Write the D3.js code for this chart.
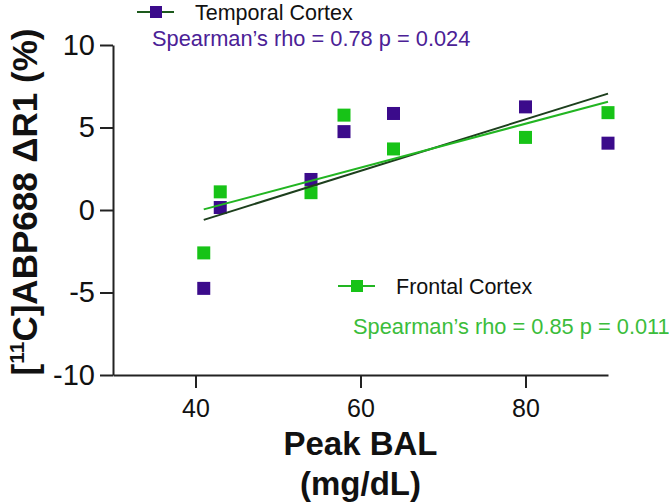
<!DOCTYPE html>
<html>
<head>
<meta charset="utf-8">
<script src="https://cdn.jsdelivr.net/npm/d3@7"></script>
<style>
  body { margin: 0; background: #fff; }
  svg { font-family: "Liberation Sans", Arial, sans-serif; display: block; }
</style>
</head>
<body>
<div id="chart"></div>
<script>
// Peak BAL vs [11C]ABP688 change, two regions

const bal = [41, 43, 54, 58, 64, 80, 90];
const temporal = [-4.75, 0.15, 1.85, 4.75, 5.85, 6.25, 4.05];
const frontal = [-2.6, 1.1, 1.05, 5.75, 3.7, 4.4, 5.9];
const xTicks = [40, 60, 80];
const yTicks = [-10, -5, 0, 5, 10];
const seriesNames = ["Temporal Cortex", "Frontal Cortex"];
const statLabels = ["Spearman\u2019s rho = 0.78 p = 0.024", "Spearman\u2019s rho = 0.85 p = 0.011"];

const width = 669,
    height = 504,
    margin = ({ top: 45, right: 61, bottom: 129, left: 113 });

const svg = d3.select("#chart")
    .append("svg")
    .attr("width", width)
    .attr("height", height);

const x = d3.scaleLinear()
    .domain([30, 90])
    .range([margin.left, width - margin.right]);

const y = d3.scaleLinear()
    .domain([-10, 10])
    .range([height - margin.bottom, margin.top]);

// series styling + where legend/stat text sit
const series = [
  { name: seriesNames[0], values: temporal, stat: statLabels[0],
    point: "#3b0b8b", line: "#1d3f1d", legendLine: "#1d5a1d", text: "#4b2196",
    legend: [156, 12], statPos: [152, 46] },
  { name: seriesNames[1], values: frontal, stat: statLabels[1],
    point: "#17c317", line: "#22b522", legendLine: "#22b522", text: "#3bbd3b",
    legend: [357, 286], statPos: [353, 334] }
];

// least squares fit
function fit(xs, ys) {
  const mx = d3.mean(xs), my = d3.mean(ys);
  const sxy = d3.sum(xs, (v, i) => (v - mx) * (ys[i] - my));
  const sxx = d3.sum(xs, v => (v - mx) ** 2);
  const b = sxy / sxx;
  return v => my + b * (v - mx);
}

// axes
const yAxis = svg.append("g")
    .attr("transform", `translate(${margin.left},0)`)
    .call(d3.axisLeft(y).tickValues(yTicks).tickFormat(d => String(d))
      .tickSize(13).tickPadding(5).tickSizeOuter(0));

const xAxis = svg.append("g")
    .attr("transform", `translate(0,${height - margin.bottom})`)
    .call(d3.axisBottom(x).tickValues(xTicks).tickFormat(d => String(d))
      .tickSize(13).tickPadding(11).tickSizeOuter(0));

[xAxis, yAxis].forEach(g => {
  g.selectAll("path, line").attr("stroke", "#222").attr("stroke-width", 2);
  g.selectAll("text").attr("fill", "#111").attr("font-family", "Liberation Sans, Arial, sans-serif");
});
xAxis.selectAll("text").attr("font-size", 25);
yAxis.selectAll("text").attr("font-size", 29);

// points
const size = 13;
series.forEach(s => {
  svg.append("g")
    .selectAll("rect")
    .data(bal.map((b, i) => [b, s.values[i]]))
    .join("rect")
    .attr("x", d => x(d[0]) - size / 2)
    .attr("y", d => y(d[1]) - size / 2)
    .attr("width", size)
    .attr("height", size)
    .attr("fill", s.point);
});

// regression lines
series.forEach(s => {
  const f = fit(bal, s.values);
  const ends = d3.extent(bal);
  svg.append("line")
    .attr("x1", x(ends[0])).attr("y1", y(f(ends[0])))
    .attr("x2", x(ends[1])).attr("y2", y(f(ends[1])))
    .attr("stroke", s.line)
    .attr("stroke-width", 2);
});

// legends and stats
series.forEach(s => {
  const [lx, ly] = s.legend;
  const g = svg.append("g").attr("transform", `translate(${lx},${ly})`);
  g.append("line")
    .attr("x1", -19).attr("x2", 18)
    .attr("stroke", s.legendLine).attr("stroke-width", 2);
  g.append("rect")
    .attr("x", -6).attr("y", -6).attr("width", 12).attr("height", 12)
    .attr("fill", s.point);
  g.append("text")
    .attr("x", 39).attr("y", 8)
    .attr("font-size", 21.5)
    .attr("fill", "#111")
    .text(s.name);

  svg.append("text")
    .attr("x", s.statPos[0]).attr("y", s.statPos[1])
    .attr("font-size", 21.8)
    .attr("fill", s.text)
    .text(s.stat);
});

// axis titles
const xt = svg.append("text")
    .attr("text-anchor", "middle")
    .attr("font-weight", "bold")
    .attr("font-size", 33)
    .attr("fill", "#111");
xt.append("tspan").attr("x", x(60)).attr("y", 455).text("Peak BAL");
xt.append("tspan").attr("x", x(60)).attr("y", 495).text("(mg/dL)");

const yt = svg.append("text")
    .attr("transform", `translate(37,${(y(10) + y(-10)) / 2 - 8}) rotate(-90)`)
    .attr("text-anchor", "middle")
    .attr("font-weight", "bold")
    .attr("font-size", 35)
    .attr("fill", "#111");
yt.append("tspan").text("[");
yt.append("tspan").attr("font-size", 21).attr("dy", -13).text("11");
yt.append("tspan").attr("dy", 13).text("C]ABP688 \u0394R1 (%)");
</script>
</body>
</html>
